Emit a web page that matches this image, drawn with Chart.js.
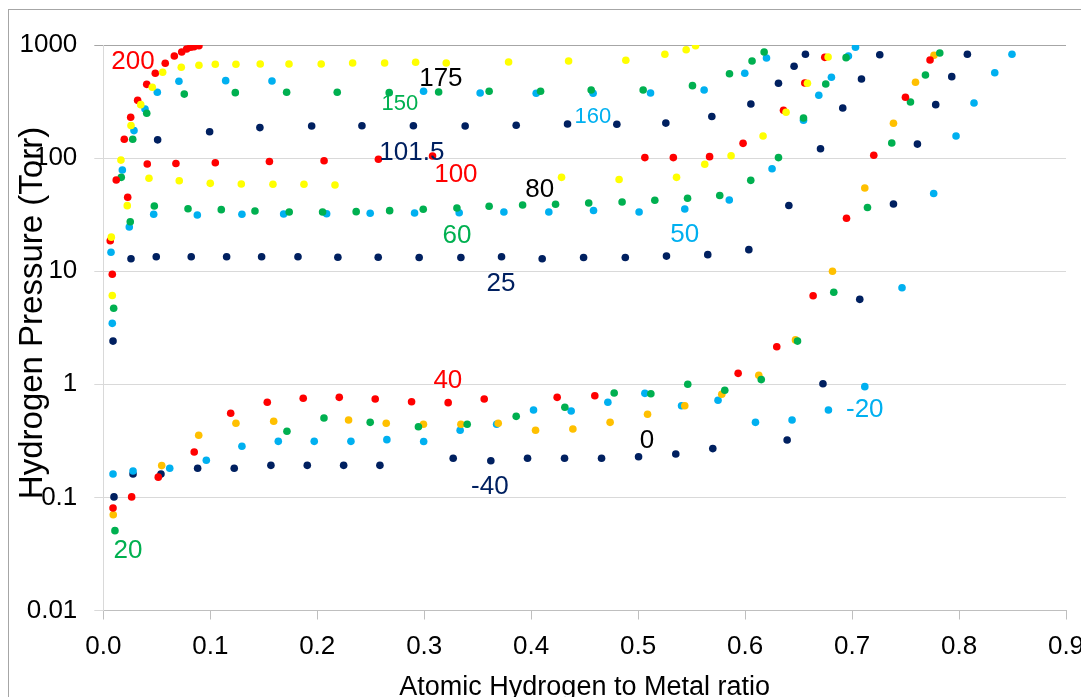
<!DOCTYPE html>
<html lang="en">
<head>
<meta charset="UTF-8">
<title>Hydrogen Isotherms</title>
<style>
    html, body { margin: 0; padding: 0; background: #fff; overflow: hidden; }
    .chart-container { position: relative; width: 1081px; height: 697px; }
</style>
</head>
<body>
<div class="chart-container"><canvas id="isoChart" width="1081" height="697"></canvas></div>

<script src="https://cdn.jsdelivr.net/npm/chart.js"></script>
<script>
    // isotherms, [H/M ratio, pressure in Torr]
    const t200 = [[0.0065,18.6],[0.0121,64],[0.0196,147],[0.0256,230],[0.0321,324],[0.0406,449],[0.0486,562],[0.0579,689],[0.0664,800],[0.0733,867],[0.0779,922],[0.0817,955],[0.0848,966],[0.0894,986]];
    const t175 = [[0.0075,20],[0.0165,96],[0.0259,194],[0.0350,297],[0.0458,423],[0.0555,574],[0.0729,635],[0.0894,662],[0.1047,675],[0.1240,675],[0.1467,679],[0.1736,679],[0.2037,679],[0.2331,693],[0.2630,693],[0.2920,703],[0.3206,693],[0.3789,708],[0.4350,722],[0.4885,733],[0.5250,828],[0.5449,909],[0.5537,986]];
    const t160 = [[0.0178,78.5],[0.0287,175],[0.0390,272],[0.0505,382],[0.0707,478],[0.1144,484],[0.1577,481],[0.2994,390],[0.3523,376],[0.4047,374],[0.4579,374],[0.5116,376],[0.5617,400],[0.5997,562],[0.6200,767]];
    const t150 = [[0.0168,67.6],[0.0275,147],[0.0406,249],[0.0757,368],[0.1234,379],[0.1714,382],[0.2187,382],[0.2673,379],[0.3135,384],[0.3607,390],[0.4088,390],[0.4561,400],[0.5047,400],[0.5508,437],[0.5854,557],[0.6065,722],[0.6178,867]];
    const t101 = [[0.0508,145],[0.0994,171],[0.1464,186],[0.1948,192],[0.2418,193],[0.2899,193],[0.3383,192],[0.3860,195],[0.4340,200],[0.4801,199],[0.5259,204],[0.5689,233],[0.6054,301],[0.6312,459],[0.6458,648],[0.6564,828]];
    const t100 = [[0.0084,9.4],[0.0228,45],[0.0411,88.7],[0.0679,89.6],[0.1047,91],[0.1553,93.3],[0.2064,94.7],[0.2572,97.6],[0.3078,104.5],[0.5063,101],[0.5329,101],[0.5668,103],[0.5981,135],[0.6359,265],[0.6558,461],[0.6745,778]];
    const t80 = [[0.0084,6.1],[0.0224,38],[0.0427,66.3],[0.0710,63.1],[0.1000,59.8],[0.1290,59.0],[0.1586,58.7],[0.1876,58.7],[0.2166,57.8],[0.4284,67.6],[0.4822,64.7],[0.5359,67.6],[0.5623,88.1],[0.5869,105],[0.6168,157],[0.6383,254],[0.6583,459],[0.6776,783]];
    const t60 = [[0.0097,4.7],[0.0252,27.4],[0.0477,37.7],[0.0792,35.7],[0.1103,35.0],[0.1418,34.1],[0.1738,33.4],[0.2050,33.4],[0.2364,33.6],[0.2677,34.3],[0.2991,35.3],[0.3306,36.2],[0.3607,37.5],[0.3920,38.5],[0.4228,39.1],[0.4538,40.1],[0.4850,40.9],[0.5156,42.4],[0.5462,44.1],[0.5763,46.7],[0.6053,63.6],[0.6312,101],[0.6546,226],[0.6754,452],[0.6944,773]];
    const t50 = [[0.0084,3.46],[0.0072,14.7],[0.0243,24.6],[0.0471,31.9],[0.0879,31.4],[0.1296,31.9],[0.1686,32.0],[0.2088,32.2],[0.2495,32.5],[0.2910,32.7],[0.3327,32.9],[0.3745,33.4],[0.4165,33.4],[0.4583,34.4],[0.5009,33.4],[0.5436,35.5],[0.5852,42.6],[0.6252,80.6],[0.6546,216],[0.6689,359],[0.6807,518],[0.6966,800],[0.7032,955]];
    const t25 = [[0.0091,2.41],[0.0259,12.9],[0.0495,13.4],[0.0822,13.4],[0.1153,13.4],[0.1480,13.4],[0.1820,13.4],[0.2193,13.3],[0.2570,13.3],[0.2953,13.2],[0.3343,13.2],[0.3723,13.4],[0.4103,12.9],[0.4490,13.2],[0.4880,13.2],[0.5265,13.6],[0.5651,14.0],[0.6035,15.5],[0.6409,38.1],[0.6705,121],[0.6913,277],[0.7088,500],[0.7259,820]];
    const t40 = [[0.0091,0.0806],[0.0265,0.101],[0.0514,0.151],[0.0850,0.252],[0.1191,0.554],[0.1533,0.693],[0.1869,0.752],[0.2206,0.767],[0.2542,0.741],[0.2882,0.700],[0.3224,0.688],[0.3561,0.741],[0.4243,0.767],[0.4595,0.793],[0.5935,1.25],[0.6296,2.15],[0.6636,6.07],[0.6948,29.4],[0.7203,106],[0.7499,345],[0.7729,736]];
    const t20 = [[0.0109,0.0508],[0.1717,0.384],[0.2063,0.504],[0.2495,0.461],[0.2946,0.421],[0.3402,0.443],[0.3860,0.521],[0.4315,0.626],[0.4776,0.838],[0.5119,0.826],[0.5464,1.0],[0.5810,0.887],[0.6151,1.10],[0.6490,2.41],[0.6829,6.51],[0.7144,36.6],[0.7371,136],[0.7546,313],[0.7686,543],[0.7820,849]];
    const t0 = [[0.0093,0.0703],[0.0546,0.191],[0.0892,0.354],[0.1240,0.452],[0.1593,0.471],[0.2293,0.483],[0.2645,0.452],[0.2993,0.443],[0.3343,0.443],[0.3692,0.452],[0.4041,0.392],[0.4390,0.403],[0.4738,0.461],[0.5088,0.543],[0.5436,0.647],[0.5782,0.816],[0.6128,1.20],[0.6471,2.47],[0.6817,10.0],[0.7119,54.4],[0.7387,203],[0.7593,468],[0.7766,811]];
    const tm20 = [[0.0091,0.161],[0.0278,0.171],[0.0621,0.181],[0.0963,0.213],[0.1296,0.283],[0.1636,0.313],[0.1972,0.313],[0.2315,0.313],[0.2651,0.324],[0.2995,0.312],[0.3336,0.392],[0.3677,0.443],[0.4022,0.593],[0.4374,0.581],[0.4717,0.693],[0.5063,0.832],[0.5406,0.647],[0.5747,0.722],[0.6097,0.461],[0.6439,0.483],[0.6779,0.593],[0.7119,0.953],[0.7467,7.15],[0.7763,48.6],[0.7972,157],[0.8140,307],[0.8334,569],[0.8495,828]];
    const tm40 = [[0.0100,0.101],[0.0278,0.161],[0.0539,0.161],[0.0882,0.181],[0.1224,0.181],[0.1567,0.192],[0.1907,0.192],[0.2247,0.192],[0.2586,0.192],[0.3271,0.222],[0.3623,0.211],[0.3966,0.222],[0.4312,0.222],[0.4658,0.222],[0.5004,0.229],[0.5352,0.242],[0.5698,0.270],[0.6393,0.322],[0.6728,1.01],[0.7072,5.64],[0.7387,39.3],[0.7611,133],[0.7782,297],[0.7932,525],[0.8078,828]];

    const xTicks = [0, 0.1, 0.2, 0.3, 0.4, 0.5, 0.6, 0.7, 0.8, 0.9];
    const yTicks = [0.01, 0.1, 1, 10, 100, 1000];

    const NAVY = '#002060', SKY = '#00b0f0', GREEN = '#00b050', YELLOW = '#ffff00', ORANGE = '#ffc000', RED = '#ff0000';
    const FONT = '"Liberation Sans", Arial, sans-serif';

    // drawing order: later ones sit on top
    const series = [
        ['175', t175, YELLOW], ['80', t80, YELLOW],
        ['200', t200, RED], ['100', t100, RED], ['40', t40, RED],
        ['150', t150, GREEN], ['60', t60, GREEN], ['20', t20, GREEN],
        ['0', t0, ORANGE],
        ['160', t160, SKY], ['50', t50, SKY], ['-20', tm20, SKY],
        ['101.5', t101, NAVY], ['25', t25, NAVY], ['-40', tm40, NAVY]
    ];

    // temperature labels placed in data coordinates
    const isoLabels = [
        ['200', 0.0278, 708, RED, 26], ['175', 0.3156, 500, '#000', 26], ['150', 0.2773, 301, GREEN, 22],
        ['160', 0.4577, 231, SKY, 22], ['101.5', 0.2885, 111, NAVY, 26], ['100', 0.3296, 71, RED, 26],
        ['80', 0.4081, 52.2, '#000', 26], ['60', 0.3306, 20.5, GREEN, 26], ['50', 0.5436, 20.9, SKY, 26],
        ['25', 0.3717, 7.71, NAVY, 26], ['40', 0.3221, 1.07, RED, 26], ['0', 0.5082, 0.315, '#000', 26],
        ['-40', 0.3614, 0.124, NAVY, 26], ['-20', 0.7119, 0.593, SKY, 26], ['20', 0.0231, 0.0336, GREEN, 26]
    ];

    const frame = {
        id: 'frame',
        beforeDraw(chart) {
            const c = chart.ctx;
            c.save();
            c.fillStyle = '#fff';
            c.fillRect(0, 0, chart.width, chart.height);
            c.strokeStyle = '#a6a6a6';
            c.lineWidth = 1;
            c.strokeRect(8.5, 9.5, chart.width + 20, chart.height + 20);
            c.restore();
        },
        afterDraw(chart) {
            // y axis title, sits a little above the plot centre like the original
            const c = chart.ctx;
            c.save();
            c.translate(33, 313);
            c.rotate(-Math.PI / 2);
            c.font = '33px ' + FONT;
            c.fillStyle = '#000';
            c.textAlign = 'center';
            c.textBaseline = 'middle';
            c.fillText('Hydrogen Pressure (Torr)', 0, 0);
            c.restore();
        }
    };

    const isoText = {
        id: 'isoText',
        afterDatasetsDraw(chart) {
            const c = chart.ctx, xs = chart.scales.x, ys = chart.scales.y;
            c.save();
            c.textAlign = 'center';
            c.textBaseline = 'middle';
            isoLabels.forEach(([txt, x, y, col, size]) => {
                c.font = size + 'px ' + FONT;
                c.fillStyle = col;
                c.fillText(txt, xs.getPixelForValue(x), ys.getPixelForValue(y));
            });
            c.restore();
        }
    };

    new Chart(document.getElementById('isoChart'), {
        type: 'scatter',
        data: {
            datasets: series.map(([name, pts, col]) => ({
                label: name,
                data: pts.map(p => ({ x: p[0], y: p[1] })),
                backgroundColor: col,
                borderColor: col,
                borderWidth: 0,
                pointRadius: 3.8,
                showLine: false
            }))
        },
        options: {
            responsive: false,
            animation: false,
            layout: { padding: { top: 45, right: 15, left: 0, bottom: 0 } },
            plugins: { legend: { display: false }, tooltip: { enabled: false } },
            scales: {
                x: {
                    type: 'linear', min: 0, max: 0.9,
                    afterBuildTicks: s => { s.ticks = xTicks.map(v => ({ value: v })); },
                    afterFit: s => { s.height = 86.5; s.paddingLeft = 0; s.paddingRight = 0; },
                    grid: { drawOnChartArea: false, drawTicks: true, tickLength: 9, color: '#bfbfbf' },
                    border: { color: '#bfbfbf' },
                    ticks: { font: { family: FONT, size: 26 }, color: '#000', padding: 12, maxRotation: 0,
                             callback: v => v.toFixed(1) },
                    title: { display: true, text: 'Atomic Hydrogen to Metal ratio', color: '#000',
                             font: { family: FONT, size: 27 }, padding: { top: 0, bottom: -7 } }
                },
                y: {
                    type: 'logarithmic', min: 0.01, max: 1000,
                    afterBuildTicks: s => { s.ticks = yTicks.map(v => ({ value: v })); },
                    afterFit: s => { s.width = 103.3; s.paddingTop = 0; s.paddingBottom = 0; },
                    grid: { color: c => (c.tick && c.tick.value === 1000) ? '#a6a6a6' : '#d9d9d9', tickLength: 9 },
                    border: { color: '#d9d9d9' },
                    ticks: { font: { family: FONT, size: 26 }, color: '#000', padding: 17,
                             callback: v => String(v) },
                    title: { display: false }
                }
            }
        },
        plugins: [frame, isoText]
    });
</script>
</body>
</html>
